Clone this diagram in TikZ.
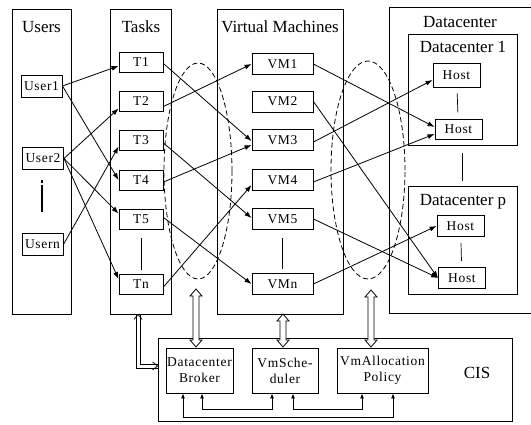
\documentclass[tikz,border=0pt]{standalone}
\usepackage{fontspec}
\setmainfont{Liberation Serif}
\newfontfamily\boxfont[LetterSpace=5]{Liberation Serif}
\usetikzlibrary{arrows.meta,shapes.geometric,calc}
\newcommand\myvdbl[3]{\draw[dblarrow] (#1,#2) -- ++(6,7) -- ++(-3,0) -- (#1+3,#3-7) -- ++(3,0) -- (#1,#3) -- ++(-6,-7) -- ++(3,0) -- (#1-3,#2+7) -- ++(-3,0) -- cycle;}
\begin{document}
\begin{tikzpicture}[x=1pt,y=-1pt,
  col/.style={draw, line width=0.9pt, inner sep=0pt},
  hdr/.style={font=\fontsize{17}{18}\selectfont, inner sep=0pt, anchor=base},
  bx/.style={draw, line width=0.9pt, inner sep=0pt, font=\boxfont\fontsize{13.5}{16}\selectfont, align=center},
  ubox/.style={bx, minimum width=41pt, minimum height=22pt},
  tbox/.style={bx, minimum width=44pt, minimum height=20pt},
  vbox/.style={bx, minimum width=61pt, minimum height=21pt},
  hbox/.style={bx, minimum width=47pt, minimum height=21pt},
  cbox/.style={bx, minimum height=45pt},
  conn/.style={line width=0.8pt, -{Latex[length=7pt,width=5pt]}},
  sep/.style={line width=0.7pt},
  dashell/.style={ellipse, draw, dashed, dash pattern=on 5pt off 3pt, line width=0.8pt, inner sep=0pt},
  dblarrow/.style={draw, fill=white, line width=0.8pt, line join=miter},
  dline/.style={line width=0.8pt},
  small/.style={line width=0.8pt, {Latex[length=5pt,width=4pt]}-{Latex[length=5pt,width=4pt]}}
]
\useasboundingbox (0,0) rectangle (531,424);

% column containers
\node[col, minimum width=59pt, minimum height=305pt] (usersbox) at (41.5,161.5) {};
\node[col, minimum width=61pt, minimum height=305pt] (tasksbox) at (140.5,161.5) {};
\node[col, minimum width=126pt, minimum height=305pt] (vmbox) at (280,161.5) {};
\draw[line width=0.9pt] (532,7) -- (389,7) -- (389,313) -- (532,313);
\node[col, minimum width=109pt, minimum height=111pt] (dc1) at (462.5,89.5) {};
\node[col, minimum width=109pt, minimum height=108pt] (dcp) at (462.5,240) {};
\node[col, minimum width=354pt, minimum height=83pt] (cis) at (335,379.5) {};

% headers
\node[hdr] (husers) at (41.5,32) {Users};
\node[hdr] (htasks) at (141,32) {Tasks};
\node[hdr] (hvm) at (280,32) {Virtual Machines};
\node[hdr] (hdc) at (460,27) {Datacenter};
\node[hdr] (hdc1) at (463,52) {Datacenter 1};
\node[hdr] (hdcp) at (463,205) {Datacenter p};
\node[hdr] (hcis) at (477,378) {CIS};

% users
\node[ubox] (u1) at (41.5,86) {User1};
\node[ubox] (u2) at (43,158.5) {User2};
\node[ubox] (un) at (42.5,244.5) {Usern};
\draw[line width=2.6pt] (42,180) -- (42,183);
\draw[line width=2.6pt] (42,185) -- (42,212);

% tasks
\node[tbox] (t1) at (141,62.5) {T1};
\node[tbox] (t2) at (141,101.5) {T2};
\node[tbox] (t3) at (141,140) {T3};
\node[tbox] (t4) at (141,180) {T4};
\node[tbox] (t5) at (141,219.5) {T5};
\node[tbox] (tn) at (141,284) {Tn};
\draw[sep, shorten <=8pt, shorten >=4pt] (t5) -- (tn);

% virtual machines
\node[vbox] (vm1) at (282.5,64) {VM1};
\node[vbox] (vm2) at (282.5,101.5) {VM2};
\node[vbox] (vm3) at (282.5,140) {VM3};
\node[vbox] (vm4) at (282.5,180) {VM4};
\node[vbox] (vm5) at (282.5,219) {VM5};
\node[vbox] (vmn) at (282.5,284) {VMn};
\draw[sep, shorten <=8pt, shorten >=4pt] (vm5) -- (vmn);

% hosts
\node[hbox, minimum height=24pt] (h1) at (456.5,75) {Host};
\node[hbox, minimum height=20pt] (h2) at (458.5,129) {Host};
\node[hbox] (h3) at (460.5,226) {Host};
\node[hbox] (h4) at (462,278) {Host};
\draw[sep, shorten <=6pt, shorten >=6pt] (h1) -- (h2);
\draw[sep, shorten <=6pt, shorten >=6pt] (h3) -- (h4);
\draw[sep, shorten <=8pt, shorten >=5pt] (dc1) -- (dcp);

% dashed ellipses
\node[dashell, minimum width=68pt, minimum height=216pt] (e1) at (198,171) {};
\node[dashell, minimum width=74pt, minimum height=218pt] (e2) at (368,170) {};

% CIS components
\node[cbox, minimum width=67pt] (br) at (199.5,370.5) {Datacenter\\Broker};
\node[cbox, minimum width=66pt] (vs) at (285,370.5) {VmSche-\\duler};
\node[cbox, minimum width=91pt] (va) at (382.5,370.5) {VmAllocation\\Policy};

% users -> tasks
\draw[conn] (u1.east) -- ([yshift=-3.5pt]t1.west);
\draw[conn] (u1.east) -- (t4.west);
\draw[conn] (u2.east) -- ([yshift=-7pt]t2.west);
\draw[conn] (u2.east) -- ([yshift=6pt]t5.west);
\draw[conn] (u2.east) -- ([yshift=5pt]tn.west);
\draw[conn] (un.east) -- ([yshift=-6.5pt]t3.west);

% tasks -> vms
\draw[conn] ([yshift=-1pt]t1.east) -- ([yshift=-1pt]vm3.west);
\draw[conn] ([yshift=-5pt]t2.east) -- (vm1.west);
\draw[conn] ([yshift=-3pt]t3.east) -- ([yshift=1pt]vm5.west);
\draw[conn] ([yshift=-2pt]t4.east) -- ([yshift=-5pt]vm3.west);
\draw[conn] ([yshift=2pt]t5.east) -- (vmn.west);
\draw[conn] ([yshift=-3pt]tn.east) -- ([yshift=-5pt]vm4.west);

% vms -> hosts
\draw[conn] (vm1.east) -- ([yshift=2pt]h2.west);
\draw[conn] (vm2.east) -- (h4.west);
\draw[conn] ([yshift=-2pt]vm3.east) -- ([yshift=-5pt]h1.west);
\draw[conn] ([yshift=-2pt]vm4.east) -- ([yshift=-5pt]h2.west);
\draw[conn] (vm5.east) -- (h4.west);
\draw[conn] (vmn.east) -- (h3.west);

% hollow double arrows
\myvdbl{196}{289}{347}
\myvdbl{283}{314}{347}
\myvdbl{371}{290}{347}

% tasks -> CIS double line
\draw[dline] ([xshift=-4.5pt]tasksbox.south) |- ([yshift=11.5pt]cis.west);
\draw[dline] ([xshift=-0.5pt]tasksbox.south) |- ([yshift=15.5pt]cis.west);
\draw[dline] ([xshift=-6.5pt,yshift=-5pt]tasksbox.south) -- ([xshift=-2.5pt]tasksbox.south) -- ([xshift=1.5pt,yshift=-5pt]tasksbox.south);
\draw[dline] ([xshift=-5pt,yshift=17.5pt]cis.west) -- ([yshift=13.5pt]cis.west) -- ([xshift=-5pt,yshift=9.5pt]cis.west);

% CIS internal connections
\draw[small] ([xshift=2.5pt]br.south) -- ++(0,16) -| ([xshift=-13pt]vs.south);
\draw[small] ([xshift=8pt]vs.south) -- ++(0,16) -| ([xshift=-20.5pt]va.south);
\draw[small] ([xshift=-16.5pt]br.south) -- ++(0,24) -| ([xshift=10.5pt]va.south);
\end{tikzpicture}
\end{document}
